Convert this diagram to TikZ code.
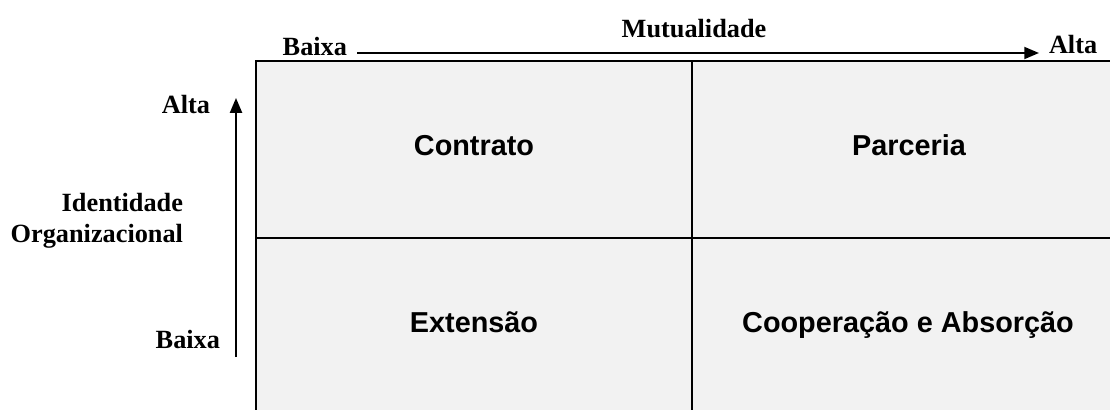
\documentclass[tikz,border=0pt]{standalone}
\usepackage{fontspec}
\setmainfont{Liberation Serif}
\setsansfont{Liberation Sans}
\usetikzlibrary{arrows.meta}

\begin{document}
\begin{tikzpicture}[
  x = 0.025cm, y = -0.025cm, % one unit per pixel
  >= {Triangle[length=10.5pt,width=8.5pt]}, % arrow head style
  line width = 1.4pt
]

\tikzstyle{axis label}=[
    font = \fontsize{18.7}{22}\selectfont\bfseries,
    inner sep = 0pt
]
\tikzstyle{cell label}=[
    font = \sffamily\fontsize{20.5}{24}\selectfont\bfseries,
    inner sep = 0pt
]

\useasboundingbox (0,0) rectangle (1110,409);

% quadrants
\draw[fill=gray!10] (256,61) rectangle (1125,420);
\draw (692,61) -- (692,420);
\draw (256,238) -- (1125,238);

\node[cell label, anchor=base] (contrato) at (474,155) {Contrato};
\node[cell label, anchor=base] (parceria) at (909,155) {Parceria};
\node[cell label, anchor=base] (extensao) at (474,332) {Extensão};
\node[cell label, anchor=base] (coop) at (908,332) {Cooperação e Absorção};

% horizontal axis
\node[axis label, anchor=base] (M) at (694,37) {Mutualidade};
\node[axis label, anchor=base east] (MB) at (348,55) {Baixa};
\node[axis label, anchor=base west] (MA) at (1048,53) {Alta};
\coordinate (m0) at (357,53);
\coordinate (m1) at (1039,53);

% vertical axis
\node[axis label, anchor=base east] (IA) at (211,113) {Alta};
\node[axis label, anchor=base east] (I1) at (184,211) {Identidade};
\node[axis label, anchor=base east] (I2) at (184,242) {Organizacional};
\node[axis label, anchor=base east] (IB) at (221,348) {Baixa};
\coordinate (i0) at (236,357);
\coordinate (i1) at (236,98);

 \path [->] (m0) edge (m1);
 \path [->] (i0) edge (i1);
\end{tikzpicture}
\end{document}
